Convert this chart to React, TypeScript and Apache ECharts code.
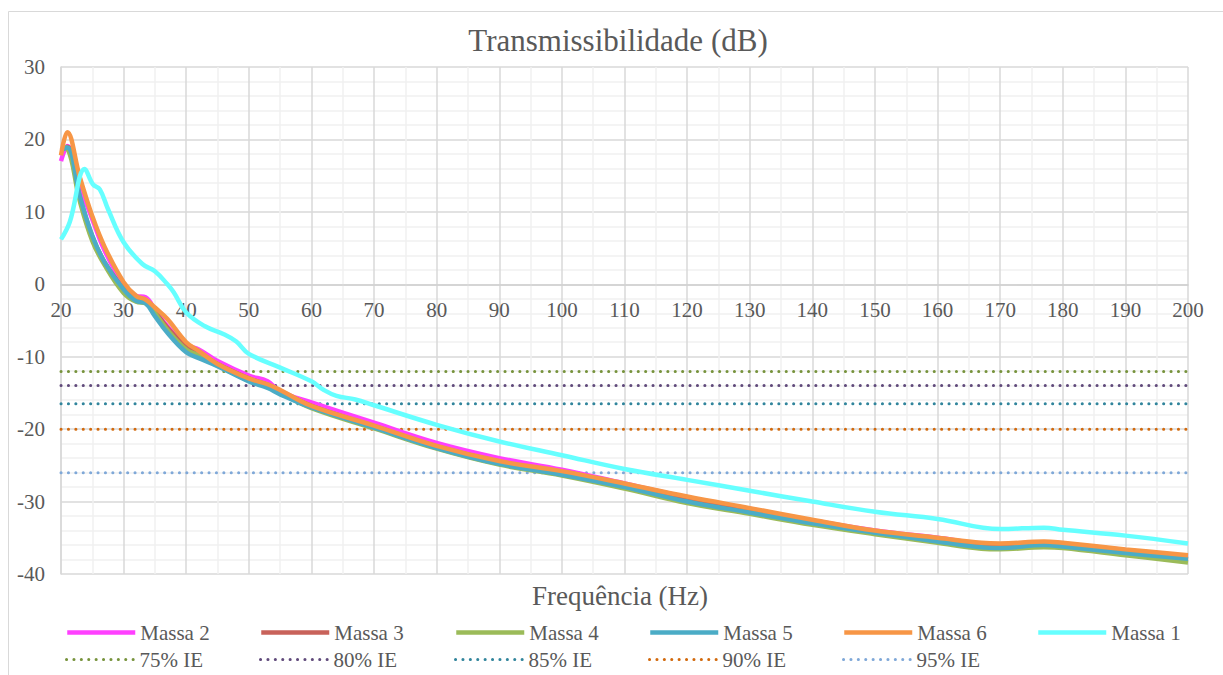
import React, { useEffect, useRef } from "react";
import * as echarts from "echarts";

const freq = [20, 21, 23, 25, 27, 30, 32, 33.5, 35, 37, 40, 42, 45, 50, 53, 55, 60, 70, 80, 90, 100, 110, 120, 130, 140, 150, 160, 167, 170, 177, 180, 190, 200];
const massa2 = [17.0, 19.1, 13.6, 9.0, 4.6, 0.0, -1.6, -1.8, -3.5, -5.8, -8.3, -9.0, -10.6, -12.6, -13.4, -14.8, -16.3, -19.1, -21.9, -24.0, -25.6, -27.5, -29.4, -31.0, -32.6, -34.0, -35.0, -35.8, -35.9, -35.6, -35.8, -36.7, -37.6];
const massa3 = [18.5, 19.0, 12.0, 6.6, 3.0, -0.6, -2.2, -2.5, -3.8, -6.0, -8.6, -9.6, -11.0, -13.0, -13.9, -14.7, -16.8, -19.6, -22.4, -24.5, -26.1, -27.9, -29.8, -31.3, -32.9, -34.3, -35.4, -36.2, -36.3, -36.0, -36.1, -37.1, -38.0];
const massa4 = [19.0, 18.8, 11.5, 6.0, 2.6, -1.2, -2.4, -2.6, -4.0, -6.3, -9.0, -9.8, -11.2, -13.3, -14.2, -15.0, -17.1, -19.9, -22.7, -24.9, -26.4, -28.2, -30.2, -31.7, -33.2, -34.5, -35.7, -36.5, -36.6, -36.3, -36.4, -37.4, -38.4];
const massa5 = [18.5, 18.9, 12.2, 6.7, 3.0, -0.7, -2.3, -2.6, -4.4, -6.7, -9.4, -10.2, -11.3, -13.4, -14.3, -15.2, -17.0, -19.8, -22.6, -24.8, -26.3, -28.0, -30.0, -31.5, -33.0, -34.3, -35.5, -36.3, -36.4, -36.0, -36.2, -37.1, -37.9];
const massa6 = [17.8, 21.0, 14.8, 9.4, 5.1, 0.3, -1.6, -2.1, -3.2, -4.8, -8.0, -9.2, -11.0, -13.0, -13.8, -14.6, -16.8, -19.5, -22.3, -24.4, -25.8, -27.5, -29.3, -30.9, -32.5, -34.0, -35.0, -35.7, -35.8, -35.5, -35.7, -36.6, -37.4];

const freq1 = [20, 21.4, 23.8, 25.1, 26.2, 27.5, 30, 33, 35, 37, 38, 40, 43, 46, 48, 50, 55, 60, 62, 64, 67, 70, 80, 90, 100, 110, 120, 130, 140, 150, 160, 170, 177, 180, 190, 200];
const massa1 = [6.2, 8.6, 15.9, 13.8, 13.1, 10.4, 5.8, 2.8, 1.8, 0.0, -1.1, -3.9, -5.8, -6.9, -7.9, -9.6, -11.5, -13.4, -14.6, -15.4, -15.9, -16.7, -19.4, -21.7, -23.6, -25.5, -27.0, -28.5, -30.0, -31.4, -32.4, -33.8, -33.6, -33.9, -34.7, -35.8];

const ieNames = ["75% IE", "80% IE", "85% IE", "90% IE", "95% IE"];
const ieValues = [-12.04, -13.98, -16.48, -20.0, -26.02];
const ieRange = [20, 200];

const xTicks = { min: 20, max: 200, interval: 10 };
const yTicks = { min: -40, max: 30, interval: 10 };

const solidNames = ["Massa 2", "Massa 3", "Massa 4", "Massa 5", "Massa 6", "Massa 1"];
const solidColors = ["#FF40FF", "#C8625A", "#9BBB59", "#4BACC6", "#F79646", "#66FFFF"];
const ieColors = ["#77933C", "#604A7B", "#31859C", "#D2690C", "#7FA8D8"];

const FONT = "'Liberation Serif', 'Times New Roman', serif";
const DOT = [0.1, 7.3];

export default function App() {
  const ref = useRef<HTMLDivElement>(null);
  useEffect(() => {
    if (!ref.current) return;
    const chart = echarts.init(ref.current, null, { renderer: "svg" });
    const solidData = [massa2, massa3, massa4, massa5, massa6];
    const series: any[] = [];
    ieNames.forEach((n, i) => {
      series.push({
        name: n,
        type: "line",
        symbol: "none",
        data: ieRange.map((x) => [x, ieValues[i]]),
        lineStyle: { color: ieColors[i], width: 3, type: DOT, cap: "round" },
        itemStyle: { color: ieColors[i] },
        z: 2,
      });
    });
    solidData.forEach((d, i) => {
      series.push({
        name: solidNames[i],
        type: "line",
        symbol: "none",
        smooth: 0.4,
        data: freq.map((f, j) => [f, d[j]]),
        lineStyle: { color: solidColors[i], width: 4.5 },
        itemStyle: { color: solidColors[i] },
        z: 3,
      });
    });
    series.push({
      name: "Massa 1",
      type: "line",
      symbol: "none",
      smooth: 0.4,
      data: freq1.map((f, j) => [f, massa1[j]]),
      lineStyle: { color: solidColors[5], width: 4.5 },
      itemStyle: { color: solidColors[5] },
      z: 4,
    });

    const colX = [65, 259, 454, 648, 842, 1036];
    const legends: any[] = [];
    solidNames.forEach((n, i) => {
      legends.push({ data: [n], left: colX[i], top: 622, lineStyle: { width: 4.5 } });
    });
    ieNames.forEach((n, i) => {
      legends.push({ data: [n], left: colX[i], top: 649, lineStyle: { width: 3, type: DOT, cap: "round" } });
    });
    const legendCommon = {
      itemWidth: 68,
      itemHeight: 20,
      itemGap: 0,
      padding: 0,
      selectedMode: false,
      itemStyle: { opacity: 0, borderWidth: 0 },
      textStyle: { fontFamily: FONT, fontSize: 21, color: "#595959" },
    };

    chart.setOption({
      animation: false,
      backgroundColor: "#fff",
      textStyle: { fontFamily: FONT },
      grid: { left: 61, right: 35, top: 67, bottom: 101, containLabel: false },
      xAxis: {
        type: "value",
        min: xTicks.min,
        max: xTicks.max,
        interval: xTicks.interval,
        offset: -289,
        axisLine: { show: true, onZero: false, lineStyle: { color: "#D0D0D0", width: 1.5 } },
        axisTick: { show: false },
        axisLabel: { fontFamily: FONT, fontSize: 21, color: "#595959", margin: 14 },
        splitLine: { show: true, lineStyle: { color: "#D9D9D9", width: 1.5 } },
        minorTick: { show: false, splitNumber: 2 },
        minorSplitLine: { show: true, lineStyle: { color: "#F0F0F0", width: 1.5 } },
      },
      yAxis: {
        type: "value",
        min: yTicks.min,
        max: yTicks.max,
        interval: yTicks.interval,
        axisLine: { show: true, onZero: false, lineStyle: { color: "#D9D9D9", width: 1.5 } },
        axisTick: { show: false },
        axisLabel: { fontFamily: FONT, fontSize: 21, color: "#595959", margin: 16 },
        splitLine: { show: true, lineStyle: { color: "#D9D9D9", width: 1.5 } },
        minorTick: { show: false, splitNumber: 5 },
        minorSplitLine: { show: true, lineStyle: { color: "#F0F0F0", width: 1.5 } },
      },
      legend: legends.map((l) => ({ ...legendCommon, ...l })),
      graphic: [
        {
          type: "rect",
          shape: { x: 8.5, y: 11.5, width: 1400, height: 800 },
          style: { fill: "none", stroke: "#D9D9D9", lineWidth: 1 },
          silent: true,
          z: -10,
        },
        {
          type: "text",
          x: 618,
          y: 40,
          style: { text: "Transmissibilidade (dB)", fontFamily: FONT, fontSize: 31, fill: "#595959", textAlign: "center", textVerticalAlign: "middle" },
        },
        {
          type: "text",
          x: 620,
          y: 596,
          style: { text: "Frequência (Hz)", fontFamily: FONT, fontSize: 27, fill: "#595959", textAlign: "center", textVerticalAlign: "middle" },
        },
      ],
      series,
    });
    return () => chart.dispose();
  }, []);
  return <div ref={ref} style={{ position: "fixed", left: 0, top: 0, width: 1223, height: 675 }} />;
}
